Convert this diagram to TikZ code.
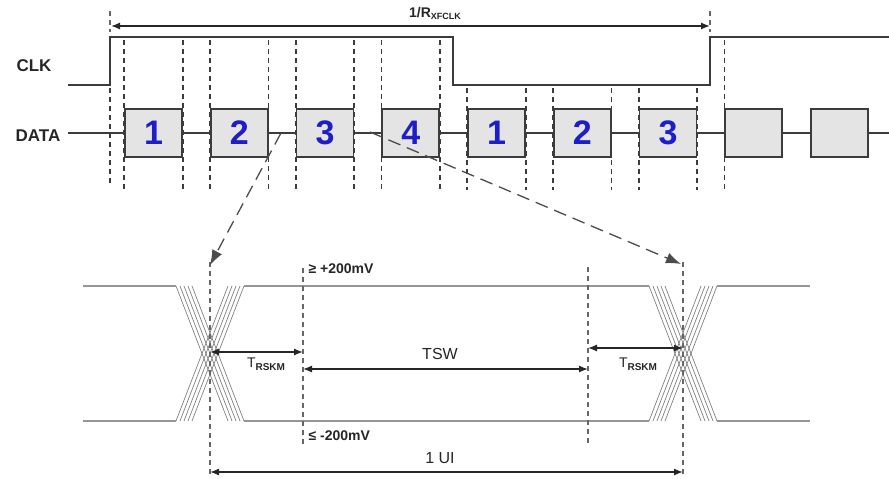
\documentclass[tikz,border=0pt]{standalone}
\usepackage{fontspec}
\setmainfont{Liberation Sans}
\usepackage{tikz}
\usetikzlibrary{shapes,arrows.meta}
\usetikzlibrary{backgrounds,positioning}
\definecolor{wire}{RGB}{60,60,60}
\definecolor{slotfill}{RGB}{228,228,228}
\definecolor{numblue}{RGB}{30,30,200}
\definecolor{level}{RGB}{150,150,150}
\tikzstyle{slot} = [draw=wire, fill=slotfill, line width=1.6pt, minimum width=57pt,
minimum height=48pt, inner sep=0pt, text=numblue, font=\fontsize{34}{36}\selectfont\bfseries]
\tikzstyle{signal} = [draw=wire, line width=1.6pt]
\tikzstyle{guide} = [draw=wire, line width=1.7pt, dash pattern=on 5pt off 4pt]
\tikzstyle{thinguide} = [draw=black!60, line width=1.2pt, dash pattern=on 5pt off 4pt]
\tikzstyle{zoomline} = [draw=black!70, line width=1.3pt, dash pattern=on 13pt off 7pt,
-{Latex[length=15pt,width=11pt]}]
\tikzstyle{dimline} = [draw=black!85, line width=1.3pt,
{Latex[length=9pt,width=7pt]}-{Latex[length=9pt,width=7pt]}]
\tikzstyle{levelline} = [draw=level, line width=1.8pt]
\tikzstyle{strand} = [draw=black!50, line width=0.7pt]
\tikzstyle{signame} = [text=black!85, font=\fontsize{17}{19}\selectfont\bfseries]

\begin{document}
\begin{tikzpicture}[x=1pt, y=-1pt]
	\useasboundingbox (0,0) rectangle (889,479);
	% Place nodes
	\node [signame] (clkname) at (34,66) {CLK};
	\node [signame] (dataname) at (38,136) {DATA};
	\node [slot] (b1) at (153.5,133) {1};
	\node [slot, right of=b1, node distance=85.75pt] (b2) {2};
	\node [slot, right of=b2, node distance=85.75pt] (b3) {3};
	\node [slot, right of=b3, node distance=85.75pt] (b4) {4};
	\node [slot, right of=b4, node distance=85.75pt] (b5) {1};
	\node [slot, right of=b5, node distance=85.75pt] (b6) {2};
	\node [slot, right of=b6, node distance=85.75pt] (b7) {3};
	\node [slot, right of=b7, node distance=85.75pt] (b8) {};
	\node [slot, right of=b8, node distance=85.75pt] (b9) {};
	\node [text=black!85] (rate) at (435,13) {\fontsize{14}{16}\selectfont\bfseries
		1/R\raisebox{-2pt}{\fontsize{9}{10}\selectfont XFCLK}};

	% waveforms and guides behind the slots
	\begin{scope}[on background layer]
		\draw [signal] (68,85) -- (110,85) -- (110,37) -- (453,37) -- (453,85)
			-- (710,85) -- (710,37) -- (889,37);
		\draw [signal] (68,133) -- (889,133);
		\foreach \b in {b1,b2,b3,b4} {
			\draw [guide] (\b.west |- 0,40) -- (\b.west |- 0,190);
			\draw [guide] (\b.east |- 0,40) -- (\b.east |- 0,190);
		}
		\foreach \b in {b5,b6,b7} {
			\draw [guide] (\b.west |- 0,88) -- (\b.west |- 0,190);
			\draw [guide] (\b.east |- 0,88) -- (\b.east |- 0,190);
		}
		\draw [guide] (b8.west |- 0,40) -- (b8.west |- 0,190);
		\draw [guide] (110,88) -- (110,186);
	\end{scope}

	% period arrow
	\coordinate (per1) at (111,26);
	\coordinate (per2) at (710,26);
	\draw [thinguide] (110,11) -- (110,32);
	\draw [thinguide] (710,11) -- (710,32);
	\path [dimline] (per1) -- (per2);

	% eye diagram
	\draw [levelline] (83,286) -- (176,286) (244,286) -- (649,286) (717,286) -- (810,286);
	\draw [levelline] (83,421) -- (176,421) (244,421) -- (649,421) (717,421) -- (810,421);
	\foreach \c in {210,683} {
		\foreach \i in {0,...,4} {
			\draw [strand] ({\c-34+4*\i},286) -- ({\c+18+4*\i},421);
			\draw [strand] ({\c+18+4*\i},286) -- ({\c-34+4*\i},421);
		}
	}
	\draw [thinguide] (210,262) -- (210,477);
	\draw [thinguide] (303,268) -- (303,446);
	\draw [thinguide] (588,267) -- (588,446);
	\draw [thinguide] (683,262) -- (683,477);

	\node [anchor=west, text=black!85] (vhigh) at (305,269) {\fontsize{14}{16}\selectfont\bfseries ≥ +200mV};
	\node [anchor=west, text=black!85] (vlow) at (305,436) {\fontsize{14}{16}\selectfont\bfseries ≤ -200mV};
	\node [text=black!85] (tsw) at (440,354) {\fontsize{16}{18}\selectfont TSW};
	\node [text=black!85] (ui) at (440,458) {\fontsize{16}{18}\selectfont 1 UI};
	\node [text=black!85] (skewl) at (266,364) {\fontsize{14}{16}\selectfont
		T\raisebox{-3pt}{\fontsize{10}{11}\selectfont\bfseries RSKM}};
	\node [text=black!85] (skewr) at (638,364) {\fontsize{14}{16}\selectfont
		T\raisebox{-3pt}{\fontsize{10}{11}\selectfont\bfseries RSKM}};

	\coordinate (tr23) at (281,133);
	\coordinate (tr34) at (370,132);
	\coordinate (hitl) at (210,265);
	\coordinate (hitr) at (681,264);
	\coordinate (skl1) at (210,352);
	\coordinate (skl2) at (303,352);
	\coordinate (sw1) at (303,369);
	\coordinate (sw2) at (588,369);
	\coordinate (skr1) at (588,348);
	\coordinate (skr2) at (683,348);
	\coordinate (ui1) at (210,472);
	\coordinate (ui2) at (683,472);

	\path [zoomline] (tr23) -- (hitl);
	\path [zoomline] (tr34) -- (hitr);
	\path [dimline] (skl1) -- (skl2);
	\path [dimline] (sw1) -- (sw2);
	\path [dimline] (skr1) -- (skr2);
	\path [dimline] (ui1) -- (ui2);

\end{tikzpicture}
\end{document}
